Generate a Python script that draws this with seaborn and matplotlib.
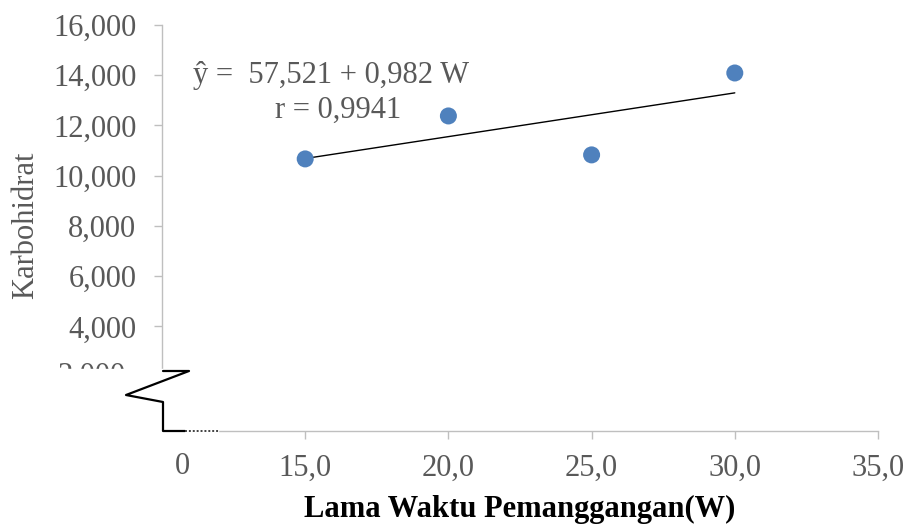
import numpy as np
import pandas as pd
import matplotlib
matplotlib.use("Agg")
import matplotlib.pyplot as plt
import seaborn as sns

# data
waktu = [15.0, 20.0, 25.0, 30.0]
karbohidrat = [10670, 12380, 10830, 14090]
x_ticks = [15, 20, 25, 30, 35]
y_ticks = [4000, 6000, 8000, 10000, 12000, 14000, 16000]

df = pd.DataFrame({"W": waktu, "Karbohidrat": karbohidrat})

sns.set_style("white")
plt.rcParams["font.family"] = ["Liberation Serif", "DejaVu Serif"]

GRAY_TXT = "#595959"
AXIS_COL = "#BFBFBF"
FS = 22

fig = plt.figure(figsize=(9.1, 5.26), dpi=100)
ax = fig.add_axes([162 / 910, 1 - 431 / 526, (878 - 162) / 910, (431 - 25) / 526])

sns.regplot(data=df, x="W", y="Karbohidrat", scatter=False, ci=None,
            truncate=True, color="black", line_kws={"lw": 1.0}, ax=ax)
sns.scatterplot(data=df, x="W", y="Karbohidrat", s=150, color="#4F81BD",
                edgecolor="none", zorder=3, ax=ax)

ax.set_xlim(10, 35)
ax.set_ylim(-160, 16000)
ax.set_xticks(x_ticks)
ax.set_xticklabels([f"{v:.1f}".replace(".", ",") for v in x_ticks])
ax.set_yticks(y_ticks)
ax.set_yticklabels([f"{v:,}" for v in y_ticks])
ax.tick_params(axis="both", colors=AXIS_COL, labelcolor=GRAY_TXT,
               labelsize=FS, length=5.5, width=1, direction="out",
               bottom=True, left=True)
ax.tick_params(axis="x", pad=11)
ax.tick_params(axis="y", pad=13)

for s in ["top", "right"]:
    ax.spines[s].set_visible(False)
for s in ["left", "bottom"]:
    ax.spines[s].set_color(AXIS_COL)
    ax.spines[s].set_linewidth(1)
ax.spines["left"].set_bounds(2230, 16000)
ax.spines["bottom"].set_bounds(12.0, 35)

ax.set_xlabel("Lama Waktu Pemanggangan(W)", fontsize=FS, fontweight="bold",
              color="black", labelpad=9)
ax.set_ylabel("")
fig.text(26 / 910, 1 - 225 / 526, "Karbohidrat", rotation=90, fontsize=FS,
         color=GRAY_TXT, ha="center", va="center")

# partly hidden 2,000 label behind the axis break
fig.text(92 / 910, 1 - 376 / 526, "2,000", fontsize=FS, color=GRAY_TXT,
         ha="center", va="center")
fig.patches.append(plt.Rectangle((40 / 910, 1 - 445 / 526), 178 / 910, 76 / 526,
                                 transform=fig.transFigure, color="white",
                                 zorder=5))

# axis break symbol
def px(x, y):
    return (x / 910, 1 - y / 526)

brk = [px(163, 371), px(189, 371), px(126, 395), px(163, 402), px(163, 431), px(185, 431)]
fig.add_artist(plt.Line2D([p[0] for p in brk], [p[1] for p in brk],
                          color="black", lw=1.6, transform=fig.transFigure, zorder=6))
dot = [px(185, 431), px(219, 431)]
fig.add_artist(plt.Line2D([p[0] for p in dot], [p[1] for p in dot],
                          color="#404040", lw=1.4, ls=(0, (1, 1)),
                          transform=fig.transFigure, zorder=6))
fig.text(182 / 910, 1 - 467 / 526, "0", fontsize=FS, color=GRAY_TXT,
         ha="center", va="center", zorder=7)

# regression annotation
fig.text(331 / 910, 1 - 76 / 526, "ŷ =  57,521 + 0,982 W", fontsize=FS,
         color=GRAY_TXT, ha="center", va="center")
fig.text(338 / 910, 1 - 110 / 526, "r = 0,9941", fontsize=FS,
         color=GRAY_TXT, ha="center", va="center")

fig.savefig("out.png", dpi=100)
